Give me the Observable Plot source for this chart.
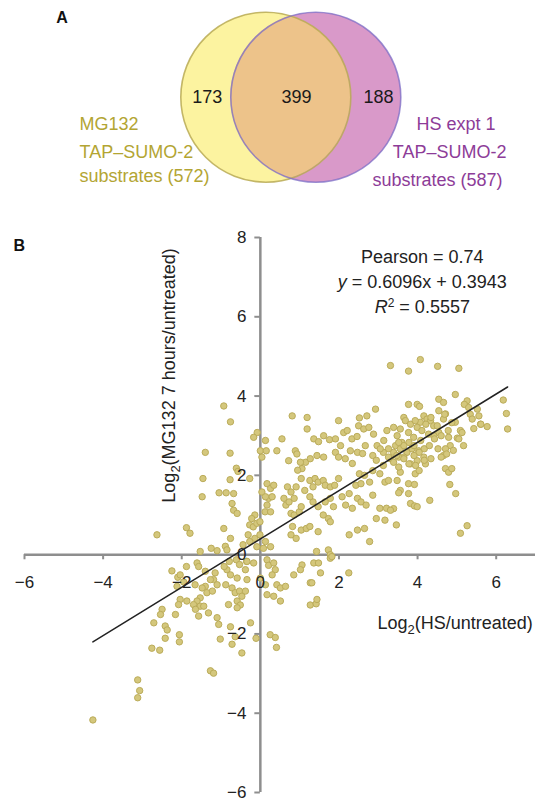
<!DOCTYPE html>
<html><head><meta charset="utf-8">
<script src="https://cdn.jsdelivr.net/npm/d3@7"></script>
<script src="https://cdn.jsdelivr.net/npm/@observablehq/plot@0.6"></script>
<style>
body{margin:0;background:#fff;font-family:"Liberation Sans",Arial,sans-serif;}
#wrap{width:536px;height:802px;overflow:hidden;background:#fff;}
#wrap svg{display:block;}
</style></head><body><div id="wrap"></div>
<script>
// ---------- Panel A: Venn diagram ----------
const vennRegionLabels = ["MG132 only", "both", "HS only"];
const vennCounts = [173, 399, 188];
const mgSetLabel = ["MG132", "TAP–SUMO-2", "substrates (572)"];
const hsSetLabel = ["HS expt 1", "TAP–SUMO-2", "substrates (587)"];

// ---------- Panel B: scatter (x = log2 HS/untreated, y = log2 MG132 7h/untreated) ----------
const scatterPairs = [
[3.31,4.77],[3.77,4.63],[4.07,4.92],[4.51,4.75],[5.05,4.70],[4.96,4.04],[3.77,3.79],[3.99,3.79],[4.05,3.74],[4.54,3.92],[4.66,3.84],[5.26,3.88],[5.19,3.79],[5.30,3.71],[6.18,3.90],[6.26,3.56],[2.93,3.67],[2.71,3.50],[-0.93,3.75],[5.34,3.54],[4.54,3.63],[4.71,3.55],[3.65,3.46],[4.16,3.50],
[6.29,3.17],[4.96,3.34],[4.66,3.42],[4.24,3.42],[4.33,3.38],[4.07,3.34],[4.41,3.25],[5.60,3.29],[5.77,3.23],[5.43,3.18],[5.09,3.13],[5.01,2.94],[4.79,2.96],[5.05,2.92],[5.17,2.75],[4.83,2.75],[4.71,2.67],[4.66,2.50],[4.50,3.25],[4.54,3.08],[4.41,3.00],[4.28,3.04],[3.39,3.21],[3.56,3.17],[3.48,3.00],[3.69,3.38],[3.82,3.29],[3.94,3.38],[3.99,3.21],[4.11,3.13],[3.77,3.08],[3.90,2.96],[3.60,2.83],[3.44,2.75],[3.56,2.67],[3.73,2.58],[3.86,2.67],[4.03,2.62],[4.16,2.46],[3.99,2.37],[3.82,2.29],[3.65,2.46],[3.52,2.46],[3.39,2.58],[4.20,2.29],[3.94,2.04],[3.56,2.08],[3.31,2.42],[4.71,2.17],[4.79,2.08],
[4.52,2.67],[4.74,2.54],[4.91,2.63],[4.43,2.92],[4.60,2.46],[4.34,2.42],[4.17,2.67],[4.30,2.75],[5.13,3.08],[4.87,3.33],[4.69,3.54],[4.34,3.46],[4.21,3.29],[5.52,3.67],[5.56,3.50],[5.39,3.42],[5.61,3.29],[4.04,2.12],[4.87,2.17],[4.17,2.38],[3.78,2.83],[3.91,2.75],[4.08,2.88],[4.60,3.00],[4.78,3.13],[3.95,2.25],[3.65,2.75],[3.52,2.83],[3.26,2.67],[3.13,2.58],[3.47,2.50],[3.39,2.33],[3.52,2.21],[3.65,2.42],[3.78,2.29],[4.04,2.58],[3.91,2.50],
[0.81,3.50],[1.19,3.46],[1.19,3.17],[1.99,3.38],[3.22,3.13],[-0.08,3.08],[-0.17,2.96],[0.13,2.88],[0.55,2.92],[0.00,2.62],[0.04,2.46],[0.15,2.62],[0.42,2.62],[0.72,2.37],[0.89,2.62],[0.93,2.54],[1.15,2.33],[1.27,2.42],[1.02,2.33],[1.06,2.17],[1.36,2.92],[1.48,2.85],[1.61,3.00],[1.76,2.90],[1.91,2.92],[2.04,2.75],[2.12,3.08],[2.21,3.13],[2.33,2.92],[2.46,2.98],[2.29,2.62],[2.50,3.25],[2.63,3.17],[2.76,3.21],[2.88,3.04],[2.97,2.75],[3.05,2.67],[3.14,2.88],[3.26,2.46],[1.44,2.50],[1.61,2.46],[1.91,2.58],[1.99,2.46],[2.16,2.42],[2.67,2.75],[2.52,3.45],[0.95,2.13],[2.47,2.58],[2.34,2.30],[2.60,2.55],[2.86,2.50],[2.95,2.38],[3.13,2.25],
[0.17,1.79],[0.26,1.67],[0.34,1.75],[0.21,1.42],[0.17,1.25],[0.12,1.08],[0.26,1.08],[0.30,1.46],[0.04,1.58],[0.13,1.46],[0.13,0.33],[0.26,0.20],[0.08,0.16],[0.69,1.71],[0.78,1.58],[0.60,1.42],[0.65,1.25],[0.73,1.33],[0.86,1.42],[0.78,1.04],[0.86,1.00],[0.99,1.08],[1.04,1.21],[0.82,0.71],[0.78,0.50],[0.91,0.41],[1.04,0.62],[1.17,0.66],[1.26,0.71],[1.47,0.58],[1.04,1.92],[1.26,1.87],[1.39,1.92],[1.47,1.83],[1.60,1.87],[1.65,1.75],[1.78,1.71],[1.89,1.75],[1.99,1.92],[1.78,1.42],[1.65,1.33],[1.86,1.21],[1.73,0.91],[1.78,0.83],[1.60,1.00],[1.47,1.21],[1.34,1.33],[1.26,1.46],[0.91,1.71],[1.13,1.62],[1.34,1.71],[1.73,0.12],[1.78,0.00],[2.26,0.50],[2.47,0.62],[2.65,0.66],[2.78,0.33],[2.08,1.46],[2.17,1.25],[2.34,1.17],[2.47,1.42],[2.56,1.33],[2.69,1.25],[2.26,1.54],[2.43,1.75],[2.56,1.79],[2.52,2.04],[2.65,2.00],[2.78,1.83],[2.86,1.50],[2.95,0.91],[3.17,0.87],[3.04,1.17],[3.21,1.17],[2.86,2.12],[3.04,2.04],[3.17,1.83],[3.26,1.87],[1.43,0.08],
[3.48,1.87],[3.77,1.79],[3.92,1.77],[3.56,1.62],[3.52,1.56],[3.77,1.54],[4.31,1.37],[3.82,1.29],[3.92,1.23],[3.99,1.21],[3.39,1.16],[3.31,1.12],[3.46,0.75],[4.82,1.77],[4.97,1.54],[5.26,0.73],[5.09,0.54],
[-2.63,0.50],[-1.88,0.68],[-1.79,0.54],[-1.40,2.58],[-1.46,1.92],[-1.48,1.46],[-1.05,1.56],[-0.87,1.56],[-0.68,1.54],[-0.77,2.56],[-0.77,1.89],[-0.61,2.18],[-0.57,2.10],[-0.72,1.29],[-0.68,1.12],[-0.59,1.04],[-0.93,0.66],[-0.76,0.41],[-0.76,3.35],[-1.53,0.08],[-1.25,0.16],[-1.10,0.10],[-0.89,0.21],[-0.85,0.12],[-0.27,1.92],[-0.14,1.00],[-0.22,0.91],[-0.27,0.75],[-0.18,0.70],[-0.31,0.50],[-0.09,0.79],[-0.01,0.83],[-0.14,0.41],[-0.01,0.50],[-0.09,0.20],[-0.27,0.33],[-0.44,0.25],
[-2.25,-0.41],[-2.10,-0.57],[-2.04,-0.51],[-1.95,-0.69],[-2.12,-0.80],[-1.61,-0.21],[-1.57,-0.30],[-1.15,-0.46],[-1.19,-0.63],[-1.10,-0.76],[-1.40,-0.80],[-1.36,-0.96],[-1.53,-1.09],[-1.61,-1.17],[-0.85,-0.38],[-0.76,-0.51],[-0.59,-0.59],[-0.72,-0.84],[-0.64,-0.96],[-0.59,-1.17],[-1.88,-0.30],[-0.92,-0.30],[-0.79,-0.17],[-0.61,-0.13],[-0.53,-0.25],[-0.35,-0.17],[-1.40,-0.42],[-1.27,-0.63],[-0.88,-0.76],[-0.53,-0.92],[-1.66,-0.76],[-1.48,-0.84],[-1.22,-0.92],
[-2.04,-1.13],[-1.87,-1.17],[-1.70,-1.26],[-1.53,-1.30],[-1.65,-1.38],[-1.57,-1.55],[-1.44,-1.30],[-1.32,-1.47],[-1.10,-1.59],[-1.06,-1.76],[-0.81,-1.26],[-0.51,-1.27],[-0.59,-1.34],[-2.08,-1.26],[-2.16,-1.51],[-2.50,-1.38],[-2.54,-1.51],[-2.71,-1.72],[-2.42,-1.80],[-2.37,-1.90],[-2.42,-2.11],[-2.06,-2.02],[-2.06,-2.20],[-2.76,-2.36],[-2.56,-2.41],[-1.02,-2.13],[-0.72,-2.26],[-0.47,-2.48],[-0.76,-1.82],[-0.25,-1.72],[-1.27,-2.93],[-1.19,-2.99],[0.25,-2.02],[0.38,-2.09],[0.41,-2.34],[-0.11,-2.11],[1.27,-1.27],[1.42,-1.24],[1.44,-1.13],[-0.64,-2.07],[-3.12,-3.16],[-3.07,-3.43],[-3.12,-3.61],[-4.26,-4.17],
[-0.34,-0.17],[-0.38,-0.38],[-0.17,-0.21],[0.17,-0.13],[0.21,-0.27],[0.34,-0.21],[0.38,-0.38],[0.30,-0.51],[0.00,-0.59],[0.13,-0.76],[0.42,-0.76],[0.51,-0.84],[0.64,-0.80],[0.34,-1.05],[0.51,-1.17],[0.17,-1.01],[0.85,-0.51],[1.06,-0.26],[1.02,-0.38],[1.27,-0.71],[1.31,-0.71],[1.36,-0.21],[1.48,-0.21],[1.53,-0.46],[1.78,-0.09],[1.82,-0.05],[2.25,-0.46],[-0.47,-1.05],[-0.38,-0.92],[-0.34,-0.63]
];
const xTicks = [-6, -4, -2, 0, 2, 4, 6];
const yTicks = [-6, -4, -2, 0, 2, 4, 6, 8];
const statsLines = ["Pearson = 0.74", "y = 0.6096x + 0.3943", "R2 = 0.5557"];
const fitSlope = 0.6096, fitIntercept = 0.3943;

const FONT = "Liberation Sans, Arial, Helvetica, sans-serif";
const wrap = document.getElementById("wrap");

// ----- Venn -----
const cy = 96.7, rad = 85, cxY = 265.3, cxP = 315.3;
const circles = [{x: cxY, y: cy, set: "MG132"}, {x: cxP, y: cy, set: "HS"}];
const half = Math.sqrt(rad * rad - ((cxP - cxY) / 2) ** 2);
const lens = d3.range(-half, half + 0.001, half / 60).map(t => {
  const w = Math.sqrt(Math.max(0, rad * rad - t * t));
  return {y: cy + t, x1: cxP - w, x2: cxY + w};
});
const olive = "#b3a533", purpleText = "#8d3c98";
const venn = Plot.plot({
  width: 536, height: 196, margin: 0,
  x: {domain: [0, 536], range: [0, 536], axis: null},
  y: {domain: [0, 196], range: [0, 196], axis: null},
  style: {fontFamily: FONT, background: "white", overflow: "visible"},
  marks: [
    Plot.dot([circles[0]], {x: "x", y: "y", r: rad, fill: "#fcf3a0", stroke: "none"}),
    Plot.dot([circles[1]], {x: "x", y: "y", r: rad, fill: "#d999c9", stroke: "none"}),
    Plot.areaX(lens, {y: "y", x1: "x1", x2: "x2", fill: "#edc38a", curve: "linear"}),
    Plot.dot([circles[0]], {x: "x", y: "y", r: rad, fill: "none", stroke: "#b8aa55", strokeWidth: 1.6, strokeOpacity: 0.85}),
    Plot.dot([circles[1]], {x: "x", y: "y", r: rad, fill: "none", stroke: "#7b6cc6", strokeWidth: 1.6, strokeOpacity: 0.75}),
    Plot.text(["A"], {x: 61.5, y: 17, text: d => d, fontWeight: "bold", fontSize: 16, fill: "#111"}),
    Plot.text(vennCounts, {x: (d, i) => [206.7, 296, 378][i], y: cy, text: d => String(d), fontSize: 18, fill: "#1a1a1a"}),
    Plot.text(mgSetLabel, {x: 79, y: (d, i) => [124, 151.7, 176][i], text: d => d, textAnchor: "start", fontSize: 18, fill: olive}),
    Plot.text(hsSetLabel, {x: (d, i) => [495, 506, 502][i], y: (d, i) => [124, 151.7, 180][i], text: d => d, textAnchor: "end", fontSize: 18, fill: purpleText})
  ]
});
wrap.appendChild(venn);

// ----- Scatter -----
const points = scatterPairs.map(([x, y]) => ({x, y}));
const ext = d3.extent(points, d => d.x);
const fit = ext.map(x => ({x, y: fitSlope * x + fitIntercept}));
const fmt = d => d < 0 ? "\u2212" + Math.abs(d) : String(d);
const axisGrey = "#8e8e8e";
const scatter = Plot.plot({
  width: 536, height: 606,
  marginTop: 41, marginBottom: 10, marginLeft: 24, marginRight: 1,
  x: {domain: [-6, 7], axis: null},
  y: {domain: [-6, 8], axis: null},
  style: {fontFamily: FONT, background: "white", overflow: "visible"},
  marks: [
    Plot.ruleY([0], {x1: -6, x2: 7, stroke: axisGrey, strokeWidth: 2.5}),
    Plot.ruleX([0], {y1: -6, y2: 8, stroke: axisGrey, strokeWidth: 2.5}),
    Plot.ruleX(xTicks.filter(d => d !== 0), {x: d => d, y1: 0, y2: -0.13, stroke: axisGrey, strokeWidth: 2}),
    Plot.ruleY(yTicks.filter(d => d !== 0), {y: d => d, x1: -0.14, x2: 0, stroke: axisGrey, strokeWidth: 2}),
    Plot.dot(points, {x: "x", y: "y", r: 3.2, fill: "#d4c77c", stroke: "#bbac5a", strokeWidth: 1}),
    Plot.line(fit, {x: "x", y: "y", stroke: "#222", strokeWidth: 1.5}),
    Plot.text(xTicks, {x: d => d, y: 0, dy: 27.5, text: fmt, fontSize: 17, fill: "#222"}),
    Plot.text(yTicks, {x: 0, y: d => d, dx: -14, text: fmt, textAnchor: "end", fontSize: 17, fill: "#222"}),
    Plot.text(statsLines, {x: 4.12, y: (d, i) => [7.49, 6.88, 6.24][i], text: d => d, fontSize: 18, fill: "#222"}),
    Plot.text(["Log2(MG132 7 hours/untreated)"], {x: -2.32, y: 4.52, rotate: -90, text: d => d, fontSize: 18, fill: "#222"}),
    Plot.text(["Log2(HS/untreated)"], {x: 6.93, y: -1.74, textAnchor: "end", text: d => d, fontSize: 18, fill: "#222"}),
    Plot.text(["B"], {frameAnchor: "top-left", dx: -11, dy: 2, text: d => d, textAnchor: "start", fontWeight: "bold", fontSize: 16, fill: "#111"})
  ]
});
wrap.appendChild(scatter);

// rich text: italics, sub/superscripts
d3.select(scatter).selectAll("text").each(function () {
  const t = this.textContent;
  if (t === "y = 0.6096x + 0.3943") {
    this.innerHTML = '<tspan font-style="italic">y</tspan> = 0.6096x + 0.3943';
  } else if (t === "R2 = 0.5557") {
    this.innerHTML = '<tspan font-style="italic">R</tspan><tspan dy="-6" font-size="12">2</tspan><tspan dy="6"> = 0.5557</tspan>';
  } else if (t.startsWith("Log2(")) {
    const rest = t.slice(4);
    this.innerHTML = 'Log<tspan dy="5" font-size="13">2</tspan><tspan dy="-5">' + rest + '</tspan>';
  }
});
</script></body></html>
